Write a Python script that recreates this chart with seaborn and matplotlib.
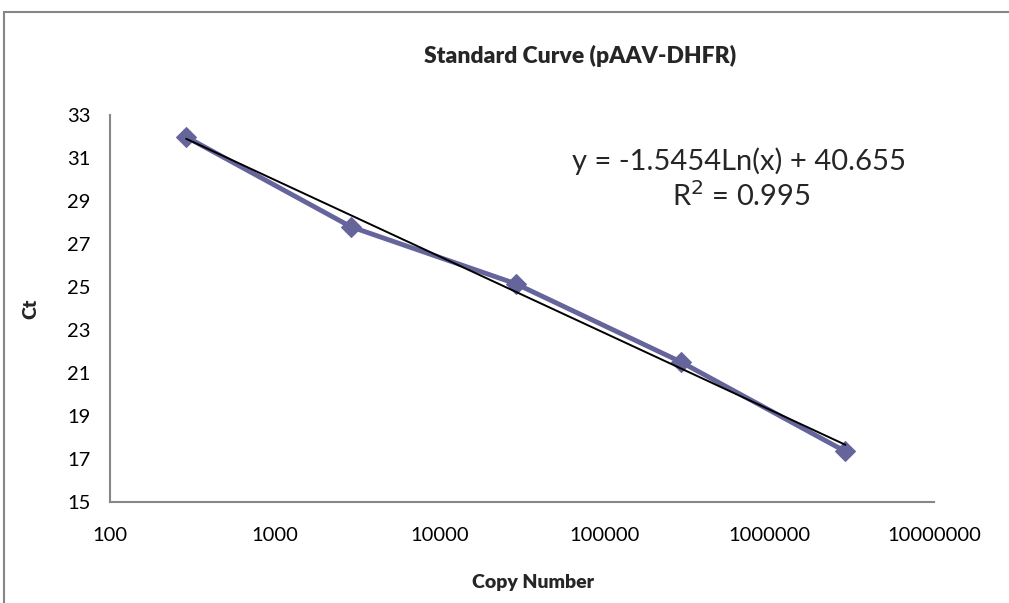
import numpy as np
import pandas as pd
import matplotlib
matplotlib.use("Agg")
import matplotlib.pyplot as plt
from matplotlib.lines import Line2D
import seaborn as sns

# data
copy_number = [290, 2900, 29000, 290000, 2900000]
ct_values = [31.98, 27.8, 25.15, 21.52, 17.35]
slope = -1.5454
intercept = 40.655
r_squared = 0.995
x_ticks = [100, 1000, 10000, 100000, 1000000, 10000000]
y_ticks = [15, 17, 19, 21, 23, 25, 27, 29, 31, 33]

series_color = "#65659C"
axis_gray = "#868686"

sns.set_theme(style="white")
plt.rcParams["font.family"] = ["Lato", "DejaVu Sans"]

df = pd.DataFrame({"copies": copy_number, "ct": ct_values})

# log trendline from the equation, drawn between first and last point
trend_x = np.array([min(copy_number), max(copy_number)])
trend = pd.DataFrame({"copies": trend_x, "ct": slope * np.log(trend_x) + intercept})

fig = plt.figure(figsize=(10.09, 6.03), dpi=100)
ax = fig.add_axes([0.109, 0.1675, 0.8167, 0.6418])

sns.lineplot(data=df, x="copies", y="ct", ax=ax, color=series_color, lw=3.5,
             marker="D", markersize=10, markeredgecolor=series_color, zorder=2)
sns.lineplot(data=trend, x="copies", y="ct", ax=ax, color="black", lw=1.4, zorder=3)

ax.set_xscale("log")
ax.set_xlim(100, 10000000)
ax.set_ylim(15, 33)
ax.set_xticks(x_ticks)
ax.set_xticklabels([str(t) for t in x_ticks])
ax.xaxis.set_minor_locator(matplotlib.ticker.NullLocator())
ax.set_yticks(y_ticks)
ax.set_yticklabels([str(t) for t in y_ticks])

for side in ["top", "right"]:
    ax.spines[side].set_visible(False)
for side in ["left", "bottom"]:
    ax.spines[side].set_color(axis_gray)
    ax.spines[side].set_linewidth(1.5)
ax.tick_params(axis="both", which="major", direction="out", length=6, width=1.2,
               color=axis_gray, labelsize=14.5, labelcolor="black", pad=8)
ax.tick_params(axis="x", pad=12)
ax.grid(False)

ax.set_xlabel("Copy Number", fontsize=14, fontweight="heavy")
ax.xaxis.set_label_coords(0.513, -0.185)
ax.set_ylabel("Ct", fontsize=14, fontweight="heavy", labelpad=20)
fig.suptitle("Standard Curve (pAAV-DHFR)", x=0.575, y=0.925, fontsize=16.5, fontweight="heavy")

ax.text(0.763, 0.88, f"y = {slope}Ln(x) + {intercept}", transform=ax.transAxes,
        ha="center", va="center", fontsize=21)
ax.text(0.766, 0.79, f"R$^2$ = {r_squared}", transform=ax.transAxes,
        ha="center", va="center", fontsize=21)

# chart area frame (only left and top edges visible in the original)
fig.add_artist(Line2D([4 / 1009, 4 / 1009], [0, 1 - 12 / 603], transform=fig.transFigure,
                      color=axis_gray, lw=1.5))
fig.add_artist(Line2D([4 / 1009, 1], [1 - 12 / 603, 1 - 12 / 603], transform=fig.transFigure,
                      color=axis_gray, lw=1.5))

fig.savefig("out.png", dpi=100)
